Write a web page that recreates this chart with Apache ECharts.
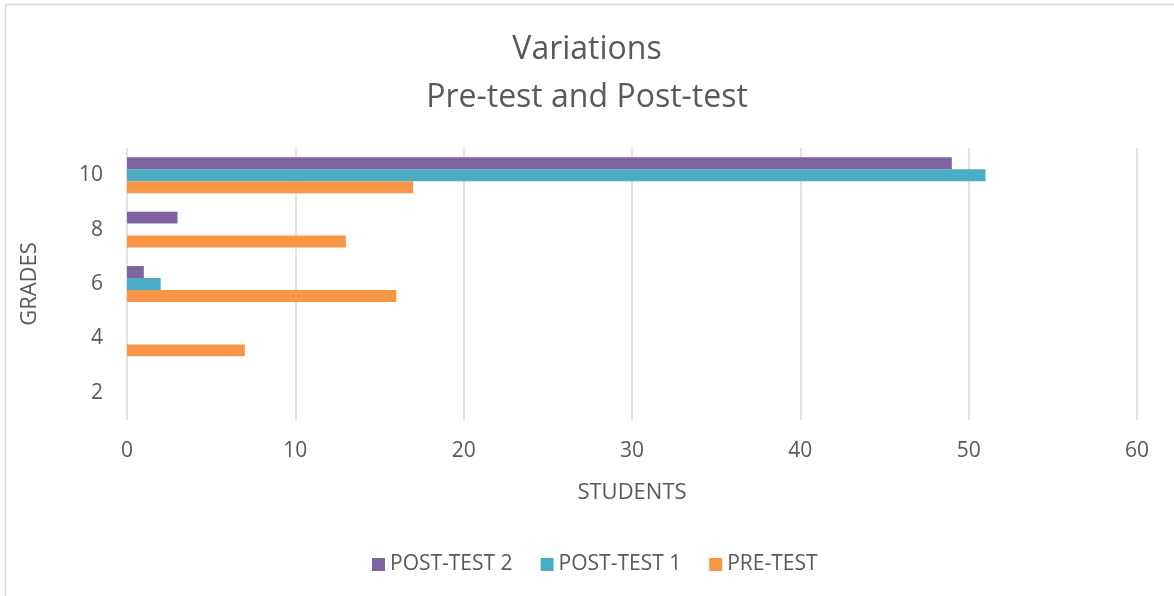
<!DOCTYPE html>
<html>
<head>
<meta charset="utf-8">
<script src="https://cdn.jsdelivr.net/npm/echarts@6/dist/echarts.min.js"></script>
<style>
html,body{margin:0;padding:0;background:#fff;}
#main{width:1174px;height:596px;}
</style>
</head>
<body>
<div id="main"></div>
<script>
const grades = ['2', '4', '6', '8', '10'];
const preTest = [0, 7, 16, 13, 17];
const postTest1 = [0, 0, 2, 0, 51];
const postTest2 = [0, 0, 1, 3, 49];
const xTicks = [0, 10, 20, 30, 40, 50, 60];

const FONT = 'Open Sans';
const TXT = '#595959';

const chart = echarts.init(document.getElementById('main'));

chart.setOption({
  animation: false,
  backgroundColor: '#fff',
  textStyle: { fontFamily: FONT, color: TXT },
  graphic: [{
    type: 'rect', silent: true,
    shape: { x: 5.5, y: 4.5, width: 1300, height: 800 },
    style: { fill: 'none', stroke: '#D9D9D9', lineWidth: 1.5 }
  }],
  title: {
    text: 'Variations\nPre-test and Post-test',
    left: 'center', top: 21,
    textStyle: { fontFamily: FONT, fontSize: 32, fontWeight: 'normal', color: TXT, lineHeight: 48 }
  },
  legend: {
    bottom: 16, left: 367,
    data: ['POST-TEST 2', 'POST-TEST 1', 'PRE-TEST'],
    icon: 'rect', itemWidth: 13, itemHeight: 13, itemGap: 28,
    textStyle: { fontFamily: FONT, fontSize: 21, color: TXT }
  },
  grid: { left: 127, right: 37, top: 148, bottom: 176, containLabel: false },
  xAxis: {
    type: 'value', min: xTicks[0], max: xTicks[xTicks.length - 1], interval: 10,
    name: 'STUDENTS', nameLocation: 'middle', nameGap: 62,
    nameTextStyle: { fontFamily: FONT, fontSize: 22, color: TXT },
    axisLine: { show: false }, axisTick: { show: false },
    axisLabel: { fontFamily: FONT, fontSize: 21, color: TXT, margin: 21 },
    splitLine: { show: true, lineStyle: { color: '#D9D9D9', width: 1.5 } }
  },
  yAxis: {
    type: 'category', data: grades,
    name: 'GRADES', nameLocation: 'middle', nameGap: 86,
    nameTextStyle: { fontFamily: FONT, fontSize: 22, color: TXT },
    axisLine: { show: false }, axisTick: { show: false },
    axisLabel: { fontFamily: FONT, fontSize: 21, color: TXT, margin: 24 }
  },
  series: [
    { name: 'POST-TEST 2', type: 'bar', data: postTest2, itemStyle: { color: '#8064A2' }, barGap: '0%', barCategoryGap: '34%' },
    { name: 'POST-TEST 1', type: 'bar', data: postTest1, itemStyle: { color: '#4BACC6' }, barGap: '0%', barCategoryGap: '34%' },
    { name: 'PRE-TEST', type: 'bar', data: preTest, itemStyle: { color: '#F79646' }, barGap: '0%', barCategoryGap: '34%' }
  ]
});
</script>
</body>
</html>
